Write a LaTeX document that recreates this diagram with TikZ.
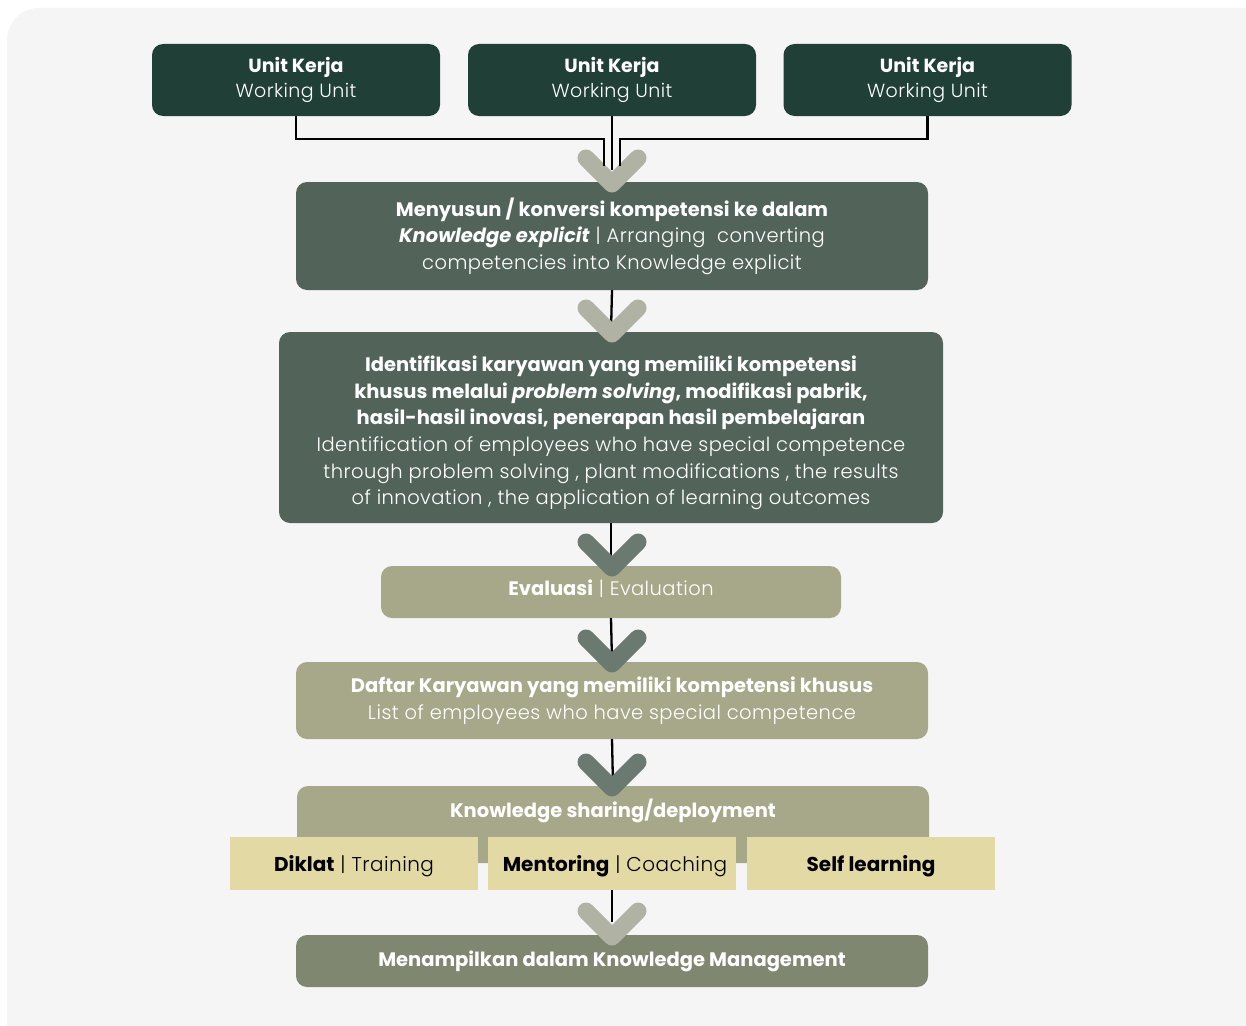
\documentclass[tikz,border=0pt]{standalone}
\usepackage{fontspec}
\setmainfont{Poppins}[UprightFont={* Light}, BoldFont={* Bold}, BoldItalicFont={* Bold Italic},
  ItalicFont={* Light Italic}, UprightFeatures={LetterSpace=2.3}]
\usetikzlibrary{calc}
\definecolor{bgc}{HTML}{F5F5F5}
\definecolor{cdark}{HTML}{1F3F37}
\definecolor{cmid}{HTML}{52645A}
\definecolor{colive}{HTML}{A7A88A}
\definecolor{cbottom}{HTML}{7F8770}
\definecolor{cyel}{HTML}{E2D9A4}
\definecolor{chevlight}{HTML}{B0B3A4}
\definecolor{chevdark}{HTML}{6B7A71}
\tikzset{
  boxbase/.style={rounded corners=11pt, inner sep=0pt, align=center, text=white,
     font=\fontsize{19.5}{26.6}\selectfont},
  txt/.style={inner sep=0pt, align=center, text=white, font=\fontsize{19.5}{26.6}\selectfont},
  unitbox/.style={boxbase, fill=cdark, minimum width=288pt, minimum height=72pt,
     font=\fontsize{19}{25}\selectfont},
  midbox/.style={boxbase, fill=cmid},
  olivebox/.style={boxbase, fill=colive},
  botbox/.style={boxbase, fill=cbottom},
  subbox/.style={fill=cyel, minimum width=248pt, minimum height=53pt, inner sep=0pt},
  subtxt/.style={inner sep=0pt, text=black, font=\fontsize{20}{22}\selectfont},
  conn/.style={line width=2.3pt, draw=black},
  chevstyle/.style={line width=17pt, line cap=round, line join=round},
}
\newcommand\chevron[2]{%
  \draw[chevstyle, #2] ($(#1)+(-26,-26)$) -- (#1) -- ($(#1)+(26,-26)$);}
\begin{document}
\begin{tikzpicture}[x=1pt,y=-1pt]
\useasboundingbox (0,0) rectangle (1246,1025);
\fill[white] (0,0) rectangle (1246,1025);
\fill[bgc, rounded corners=32pt] (7,8) rectangle (1290,1070);

% top units
\node[unitbox] (u1) at (296,80) {\textbf{Unit Kerja}\\Working Unit};
\node[unitbox] (u2) at (612,80) {\textbf{Unit Kerja}\\Working Unit};
\node[unitbox] (u3) at (927.5,80) {\textbf{Unit Kerja}\\Working Unit};

% main boxes
\node[midbox, minimum width=632pt, minimum height=108pt] (b2) at (612,236)
  {\textbf{Menyusun / konversi kompetensi ke dalam}\\
   \textbf{\textit{Knowledge explicit}} | Arranging\ \ converting\\
   competencies into Knowledge explicit};
\node[midbox, minimum width=664pt, minimum height=191pt] (b3) at (611,427.5) {};
\node[txt] (b3t) at (611,433)
  {\textbf{Identifikasi karyawan yang memiliki kompetensi}\\
   \textbf{khusus melalui \textit{problem solving}, modifikasi pabrik,}\\
   \textbf{hasil-hasil inovasi, penerapan hasil pembelajaran}\\
   Identification of employees who have special competence\\
   through problem solving , plant modifications , the results\\
   of innovation , the application of learning outcomes};
\node[olivebox, minimum width=460pt, minimum height=52pt] (b4) at (611,592) {};
\node[txt] (b4t) at (611,589) {\textbf{Evaluasi} | Evaluation};
\node[olivebox, minimum width=632pt, minimum height=77pt] (b5) at (612,700.5)
  {\textbf{Daftar Karyawan yang memiliki kompetensi khusus}\\
   List of employees who have special competence};
\node[olivebox, minimum width=632pt, minimum height=77pt] (b6) at (613,824.5) {};
\node[txt, font=\fontsize{19.5}{22}\selectfont\bfseries] (b6t) at (613,811)
  {Knowledge sharing/deployment};
\node[subbox] (s1) at (354,863.5) {};
\node[subbox] (s2) at (612,863.5) {};
\node[subbox] (s3) at (871,863.5) {};
\node[subtxt] (s1t) at (354,866) {\textbf{Diklat} | Training};
\node[subtxt] (s2t) at (615,866) {\textbf{Mentoring} | Coaching};
\node[subtxt] (s3t) at (871,866) {\textbf{Self learning}};
\node[botbox, minimum width=632pt, minimum height=52pt] (b7) at (612,961)
  {\textbf{Menampilkan dalam Knowledge Management}};

% connectors behind chevrons
\draw[conn] (b2.south) -- (b3.north);
\draw[conn] (b3.south) -- (b4.north);
\draw[conn] (b4.south) -- (b5.north);
\draw[conn] (b5.south) -- (b6.north);

% chevrons
\chevron{612,184}{chevlight}
\chevron{612,334}{chevlight}
\chevron{612,568}{chevdark}
\chevron{612,664}{chevdark}
\chevron{612,788}{chevdark}
\chevron{612,937}{chevlight}

% connectors over chevrons
\coordinate (j1) at (604,166);
\coordinate (j2) at (612,170);
\coordinate (j3) at (620,166);
\coordinate (j4) at (612,922);
\draw[conn] (u1.south) -- ++(0,23) -| (j1);
\draw[conn] (u2.south) -- (j2);
\draw[conn] (u3.south) -- ++(0,23) -| (j3);
\draw[conn] (s2.south) -- (j4);
\end{tikzpicture}
\end{document}
